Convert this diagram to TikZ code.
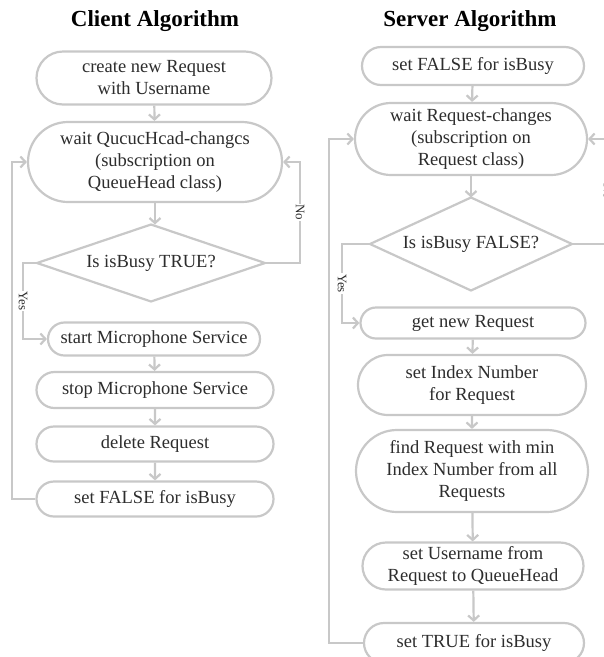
\documentclass[tikz,border=0pt]{standalone}
\usepackage{fontspec}
\setmainfont{Liberation Serif}
\usetikzlibrary{shapes.misc,arrows.meta}
\definecolor{linec}{RGB}{200,200,200}
\definecolor{txtc}{RGB}{45,45,45}
\begin{document}
\begin{tikzpicture}[x=1pt,y=-1pt,
  proc/.style={draw=linec, line width=2.2pt, rounded rectangle, inner sep=0pt, align=center, text=txtc, font=\fontsize{18.5}{22}\selectfont},
  dtext/.style={inner sep=0pt, align=center, text=txtc, font=\fontsize{18.5}{22}\selectfont},
  dshape/.style={draw=linec, line width=2.2pt, line join=miter},
  arr/.style={draw=linec, line width=2.2pt, -{Straight Barb[length=5pt,width=11pt]}},
  lbl/.style={fill=white, rotate=-90, inner sep=1pt, text=txtc, font=\fontsize{13}{15}\selectfont},
  ttl/.style={font=\fontsize{23}{26}\selectfont\bfseries, text=black}]
\useasboundingbox (0,0) rectangle (604,657);
\clip (0,0) rectangle (604,657);
\fill[white] (0,0) rectangle (604,657);

% titles
\node[ttl] (tc) at (155,21) {Client Algorithm};
\node[ttl] (ts) at (470,21) {Server Algorithm};

% client
\node[proc, minimum width=235pt, minimum height=53pt] (c1) at (154,78) {create new Request\\with Username};
\node[proc, minimum width=254pt, minimum height=80pt] (c2) at (155,162) {wait QucucHcad-changcs\\(subscription on\\QueueHead class)};
\node[dtext] (cd) at (151,263) {Is isBusy TRUE?};
\coordinate (cdN) at (151,224.5);
\coordinate (cdE) at (265,263);
\coordinate (cdS) at (151,301.5);
\coordinate (cdW) at (37,263);
\draw[dshape] (cdN) -- (cdE) -- (cdS) -- (cdW) -- cycle;
\node[proc, minimum width=212pt, minimum height=33pt] (c3) at (154,339) {start Microphone Service};
\node[proc, minimum width=237pt, minimum height=36pt] (c4) at (155,390) {stop Microphone Service};
\node[proc, minimum width=237pt, minimum height=35pt] (c5) at (155,444) {delete Request};
\node[proc, minimum width=237pt, minimum height=35pt] (c6) at (155,499) {set FALSE for isBusy};

\draw[arr] (c1) -- (c2);
\draw[arr] (c2.south) -- (c2.south |- cdN);
\draw[arr] (c3) -- (c4);
\draw[arr] (c4) -- (c5);
\draw[arr] (c5) -- (c6);
\draw[arr] (cdE) -- ++(35,0) |- node[lbl, pos=0.25] {No} (c2.east);
\draw[arr] (cdW) -- ++(-14,0) |- node[lbl, pos=0.25] {Yes} (c3.west);
\draw[arr] (c6.west) -- ++(-23.5,0) |- (c2.west);

% server
\node[proc, minimum width=222pt, minimum height=38pt] (s1) at (473,66) {set FALSE for isBusy};
\node[proc, minimum width=232pt, minimum height=72pt] (s2) at (471,139) {wait Request-changes\\(subscription on\\Request class)};
\node[dtext] (sd) at (471,244) {Is isBusy FALSE?};
\coordinate (sdN) at (471,197.5);
\coordinate (sdE) at (572,244);
\coordinate (sdS) at (471,290.5);
\coordinate (sdW) at (370,244);
\draw[dshape] (sdN) -- (sdE) -- (sdS) -- (sdW) -- cycle;
\node[proc, minimum width=225pt, minimum height=31pt] (s3) at (473,323) {get new Request};
\node[proc, minimum width=228pt, minimum height=60pt] (s4) at (472,385) {set Index Number\\for Request};
\node[proc, minimum width=232pt, minimum height=82pt] (s5) at (472,471) {find Request with min\\Index Number from all\\Requests};
\node[proc, minimum width=221pt, minimum height=47pt] (s6) at (473,566) {set Username from\\Request to QueueHead};
\node[proc, minimum width=220pt, minimum height=40pt] (s7) at (474,643) {set TRUE for isBusy};

\draw[arr] (s1) -- (s2);
\draw[arr] (s2.south) -- (s2.south |- sdN);
\draw[arr] (s3) -- (s4);
\draw[arr] (s4) -- (s5);
\draw[arr] (s5) -- (s6);
\draw[arr] (s6) -- (s7);
\draw[arr] (sdE) -- ++(36,0) |- node[lbl, pos=0.25] {No} (s2.east);
\draw[arr] (sdW) -- ++(-28,0) |- node[lbl, pos=0.25] {Yes} (s3.west);
\draw[arr] (s7.west) -- ++(-34,0) |- (s2.west);
\end{tikzpicture}
\end{document}
